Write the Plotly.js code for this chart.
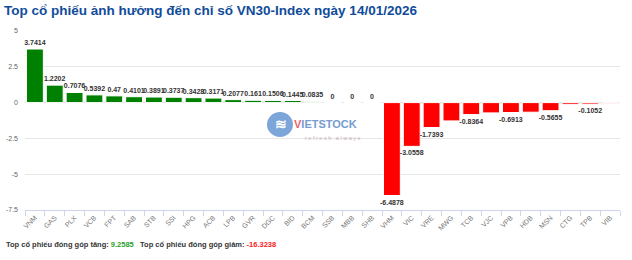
<!DOCTYPE html>
<html>
<head>
<meta charset="utf-8">
<script src="https://cdn.plot.ly/plotly-3.0.1.min.js"></script>
<style>
  html, body { margin: 0; padding: 0; background: #ffffff; }
  #chart { width: 632px; height: 260px; }
</style>
</head>
<body>
<div id="chart"></div>
<script>
const positiveTickers = ["VNM","GAS","PLX","VCB","FPT","SAB","STB","SSI","HPG","ACB","LPB","GVR","DGC","BID","BCM","SSB","MBB","SHB"];
const positiveValues  = [3.7414,1.2202,0.7076,0.5392,0.47,0.4101,0.3891,0.3737,0.3428,0.3171,0.2077,0.161,0.1506,0.1445,0.0835,0,0,0];
const positiveShowLabel = [true,true,true,true,true,true,true,true,true,true,true,true,true,true,true,true,true,true];

const negativeTickers = ["VHM","VIC","VRE","MWG","TCB","VJC","VPB","HDB","MSN","CTG","TPB","VIB"];
const negativeValues  = [-6.4878,-3.0558,-1.7393,-1.28,-0.8364,-0.72,-0.6913,-0.67,-0.5655,-0.12,-0.1052,-0.05];
const negativeShowLabel = [true,true,true,false,true,false,true,false,true,false,true,false];

const totalUp = 9.2585;
const totalDown = -16.3238;
const chartTitle = "Top cổ phiếu ảnh hưởng đến chỉ số VN30-Index ngày 14/01/2026";
const yTickValues = [-7.5,-5,-2.5,0,2.5,5];
const yTickLabels = ["-7.5","-5","-2.5","0","2.5","5"];

const allTickers = positiveTickers.concat(negativeTickers);
const labelFont = {family: "Liberation Sans, Arial, sans-serif", size: 7, color: "#333333", weight: "bold"};

const traces = [
  {
    type: "bar",
    x: positiveTickers,
    y: positiveValues,
    text: positiveValues.map((v, i) => positiveShowLabel[i] ? String(v) : ""),
    textposition: "outside",
    textfont: labelFont,
    constraintext: "none",
    cliponaxis: false,
    marker: {color: "#008000", line: {color: "#ffffff", width: 1}},
    hoverinfo: "x+y",
    showlegend: false
  },
  {
    type: "bar",
    x: negativeTickers,
    y: negativeValues,
    text: negativeValues.map((v, i) => negativeShowLabel[i] ? String(v) : ""),
    textposition: "outside",
    textfont: labelFont,
    constraintext: "none",
    cliponaxis: false,
    marker: {color: "#ff0000", line: {color: "#ffffff", width: 1}},
    hoverinfo: "x+y",
    showlegend: false
  }
];

const layout = {
  width: 632,
  height: 260,
  margin: {l: 25, r: 12, t: 31, b: 50, pad: 0},
  paper_bgcolor: "#ffffff",
  plot_bgcolor: "#ffffff",
  font: {family: "Liberation Sans, Arial, sans-serif", color: "#666666", size: 7},
  barmode: "relative",
  bargap: 0.15,
  title: {
    text: "<b>" + chartTitle + "</b>",
    x: 0.0063, xanchor: "left", xref: "container",
    y: 0.962, yanchor: "middle", yref: "container",
    font: {family: "Liberation Sans, Arial, sans-serif", size: 13.5, color: "#0f4c9a"}
  },
  xaxis: {
    type: "category",
    categoryorder: "array",
    categoryarray: allTickers,
    tickangle: -45,
    tickfont: {size: 7, color: "#777777"},
    showgrid: false,
    showline: true,
    linecolor: "#ccd6eb",
    linewidth: 1,
    ticks: "outside",
    tickson: "boundaries",
    ticklen: 5,
    tickcolor: "#ccd6eb",
    zeroline: false,
    fixedrange: true
  },
  yaxis: {
    range: [-7.5, 5],
    tickvals: yTickValues,
    ticktext: yTickLabels,
    tickfont: {size: 7, color: "#666666"},
    showgrid: true,
    gridcolor: "#e6e6e6",
    gridwidth: 1,
    zeroline: true,
    zerolinecolor: "#e6e6e6",
    zerolinewidth: 1,
    showline: false,
    ticklabelstandoff: 6,
    fixedrange: true
  },
  shapes: [
    {type: "circle", xref: "paper", yref: "paper", x0: 0.4067, x1: 0.4504, y0: 0.4078, y1: 0.5475,
     fillcolor: "#5b8fd0", line: {width: 0}, opacity: 0.8, layer: "below"}
  ],
  annotations: [
    {xref: "paper", yref: "paper", x: 0.43, y: 0.478, text: "<b>≋</b>", showarrow: false,
     font: {size: 14, color: "#ffffff"}, xanchor: "center", yanchor: "middle"},
    {xref: "paper", yref: "paper", x: 0.448, y: 0.482, xanchor: "left", yanchor: "middle", showarrow: false,
     text: "<b><span style='color:#e8474f'>V</span>IETSTOCK</b>",
     font: {family: "Liberation Sans, Arial, sans-serif", size: 11, color: "#5d8cc8"}, opacity: 0.85},
    {xref: "paper", yref: "paper", x: 0.468, y: 0.405, xanchor: "left", yanchor: "middle", showarrow: false,
     text: "r e f r e s h   a l w a y s",
     font: {family: "Liberation Sans, Arial, sans-serif", size: 5.5, color: "#c5a3b0"}, opacity: 0.85},
    {xref: "paper", yref: "paper", x: -0.0353, y: -0.19, xanchor: "left", yanchor: "middle", showarrow: false,
     align: "left",
     text: "<b>Top cổ phiếu đóng góp tăng: <span style='color:#2ca02c'>" + totalUp + "</span>   Top cổ phiếu đóng góp giảm: <span style='color:#ff2020'>" + totalDown + "</span></b>",
     font: {family: "Liberation Sans, Arial, sans-serif", size: 7.5, color: "#333333"}}
  ]
};

Plotly.newPlot("chart", traces, layout, {displayModeBar: false, staticPlot: true});
</script>
</body>
</html>
